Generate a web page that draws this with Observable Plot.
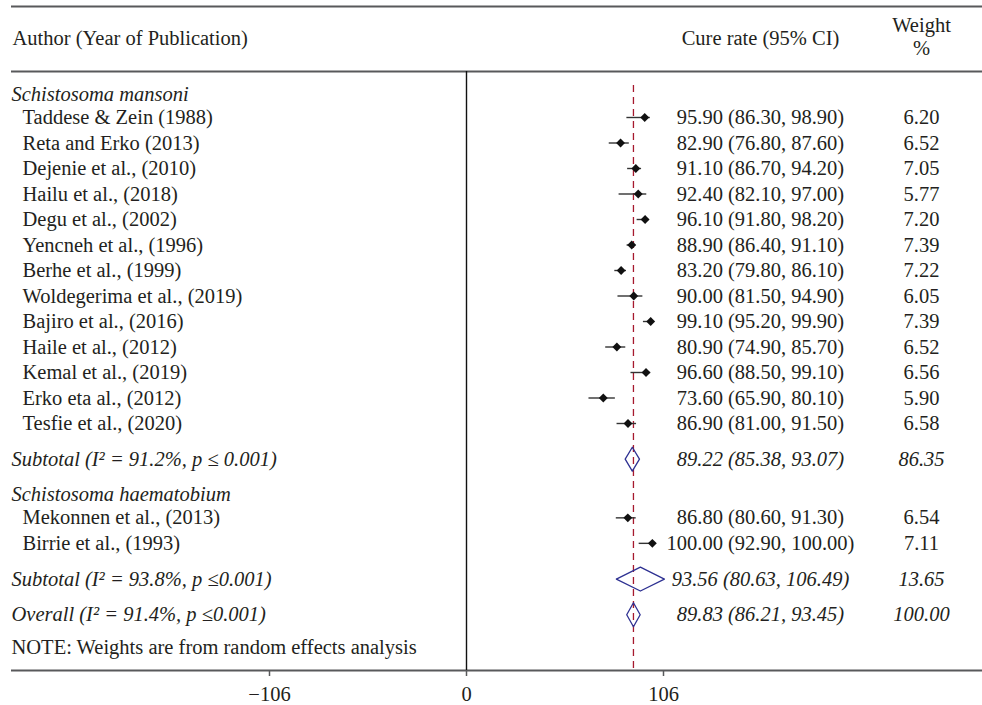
<!DOCTYPE html>
<html>
<head>
<meta charset="utf-8">
<script src="https://cdn.jsdelivr.net/npm/d3@7"></script>
<script src="https://cdn.jsdelivr.net/npm/@observablehq/plot@0.6"></script>
<style>
  html, body { margin: 0; padding: 0; background: #fff; }
  #chart svg { display: block; }
</style>
</head>
<body>
<div id="chart"></div>
<script>
// ---------------- DATA ----------------
const groupNames = ["Schistosoma mansoni", "Schistosoma haematobium"];

const studies1 = ["Taddese & Zein (1988)", "Reta and Erko (2013)", "Dejenie et al., (2010)",
  "Hailu et al., (2018)", "Degu et al., (2002)", "Yencneh et al., (1996)", "Berhe et al., (1999)",
  "Woldegerima et al., (2019)", "Bajiro et al., (2016)", "Haile et al., (2012)",
  "Kemal et al., (2019)", "Erko eta al., (2012)", "Tesfie et al., (2020)"];
const est1 = [95.90, 82.90, 91.10, 92.40, 96.10, 88.90, 83.20, 90.00, 99.10, 80.90, 96.60, 73.60, 86.90];
const lo1  = [86.30, 76.80, 86.70, 82.10, 91.80, 86.40, 79.80, 81.50, 95.20, 74.90, 88.50, 65.90, 81.00];
const hi1  = [98.90, 87.60, 94.20, 97.00, 98.20, 91.10, 86.10, 94.90, 99.90, 85.70, 99.10, 80.10, 91.50];
const wt1  = [6.20, 6.52, 7.05, 5.77, 7.20, 7.39, 7.22, 6.05, 7.39, 6.52, 6.56, 5.90, 6.58];

const studies2 = ["Mekonnen et al., (2013)", "Birrie et al., (1993)"];
const est2 = [86.80, 100.00];
const lo2  = [80.60, 92.90];
const hi2  = [91.30, 100.00];
const wt2  = [6.54, 7.11];

const subtotalLabels = ["Subtotal (I\u00B2 = 91.2%, p \u2264 0.001)", "Subtotal (I\u00B2 = 93.8%, p \u22640.001)"];
const subtotalEst = [89.22, 93.56];
const subtotalLo  = [85.38, 80.63];
const subtotalHi  = [93.07, 106.49];
const subtotalWt  = [86.35, 13.65];

const overallLabel = "Overall (I\u00B2 = 91.4%, p \u22640.001)";
const overallEst = 89.83, overallLo = 86.21, overallHi = 93.45, overallWt = 100.00;

const noteText = "NOTE: Weights are from random effects analysis";
const headerAuthor = "Author (Year of Publication)";
const headerCI = "Cure rate (95% CI)";
const headerWeight = ["Weight", "%"];
const xTicks = [-106, 0, 106];

// ---------------- LAYOUT (row positions) ----------------
const groups = [
  {name: groupNames[0], names: studies1, est: est1, lo: lo1, hi: hi1, wt: wt1},
  {name: groupNames[1], names: studies2, est: est2, lo: lo2, hi: hi2, wt: wt2}
];
const rows = [];
let pos = 0.1;
groups.forEach((g, gi) => {
  rows.push({kind: "group", label: g.name, pos});
  pos += 0.9;
  g.names.forEach((n, i) => {
    rows.push({kind: "study", label: n, est: g.est[i], lo: g.lo[i], hi: g.hi[i], wt: g.wt[i], pos});
    if (i < g.names.length - 1) pos += 1;
  });
  pos += 1.4;
  rows.push({kind: "subtotal", label: subtotalLabels[gi], est: subtotalEst[gi], lo: subtotalLo[gi], hi: subtotalHi[gi], wt: subtotalWt[gi], pos});
  pos += 1.4;
});
rows.push({kind: "overall", label: overallLabel, est: overallEst, lo: overallLo, hi: overallHi, wt: overallWt, pos});
pos += 1.3;
rows.push({kind: "note", label: noteText, pos});

const ROW0 = 117, ROWH = 25.5;             // pixel layout of the row grid
const P = px => 1 + (px - ROW0) / ROWH;    // pixel -> row units

const f2 = v => v.toFixed(2);
const studies = rows.filter(r => r.kind === "study");
const pooled = rows.filter(r => r.kind === "subtotal" || r.kind === "overall");
const italicLabels = rows.filter(r => r.kind !== "study" && r.kind !== "note");
const noteRows = rows.filter(r => r.kind === "note");
const H = 0.47; // diamond half-height in row units
const diamondPts = pooled.flatMap((r, k) => [
  {k, x: r.lo, y: r.pos}, {k, x: r.est, y: r.pos - H}, {k, x: r.hi, y: r.pos},
  {k, x: r.est, y: r.pos + H}, {k, x: r.lo, y: r.pos}
]);

const TXT = "#231f20";
const FS = 20.5;
const font = "Liberation Serif, Times New Roman, serif";
const CI_DX = -222, WT_DX = -61;

const chart = Plot.plot({
  width: 982,
  height: 705,
  marginLeft: 11,
  marginRight: 0,
  marginTop: 71,
  marginBottom: 35,
  style: {fontFamily: font, fontSize: FS + "px", color: TXT, background: "#fff"},
  x: {domain: [-106, 106], range: [269, 663]},
  y: {domain: [1, 13], range: [ROW0, ROW0 + 12 * ROWH], axis: null},
  marks: [
    // horizontal rules
    Plot.ruleY([P(6), P(71), P(670)], {stroke: "#58595b", strokeWidth: 2}),
    // zero line
    Plot.ruleX([0], {y1: P(71), y2: P(670), stroke: "#111", strokeWidth: 1.4}),
    // overall dashed line
    Plot.ruleX([overallEst], {y1: P(85), y2: P(670), stroke: "#a6192e", strokeWidth: 1.3, strokeDasharray: "7,5"}),
    // axis
    Plot.axisX({ticks: xTicks, tickSize: 6, tickPadding: 10, fontSize: FS, stroke: "#58595b", strokeWidth: 1.5, fill: TXT,
      tickFormat: d => d < 0 ? "\u2212" + Math.abs(d) : String(d)}),
    // CI lines and points
    Plot.ruleY(studies, {y: "pos", x1: "lo", x2: "hi", stroke: "#333", strokeWidth: 1.4}),
    Plot.dot(studies, {x: "est", y: "pos", symbol: "diamond2", r: 4, fill: "#111", stroke: "none"}),
    // pooled diamonds
    Plot.line(diamondPts, {x: "x", y: "y", z: "k", stroke: "#2e3192", strokeWidth: 1.3, fill: "none", curve: "linear"}),
    // header texts
    Plot.text([headerAuthor], {frameAnchor: "left", dx: 1, y: [P(38)], text: d => d, textAnchor: "start", fontSize: FS, fill: TXT}),
    Plot.text([headerCI], {frameAnchor: "right", dx: CI_DX, y: [P(38)], text: d => d, textAnchor: "middle", fontSize: FS, fill: TXT}),
    Plot.text(headerWeight, {frameAnchor: "right", dx: WT_DX, y: [P(25), P(48)], text: d => d, textAnchor: "middle", fontSize: FS, fill: TXT}),
    // row labels
    Plot.text(studies, {frameAnchor: "left", dx: 11, y: "pos", text: "label", textAnchor: "start", fontSize: FS, fill: TXT}),
    Plot.text(italicLabels, {frameAnchor: "left", dx: 0, y: "pos", text: "label", textAnchor: "start", fontSize: FS, fill: TXT, fontStyle: "italic"}),
    Plot.text(noteRows, {frameAnchor: "left", dx: 0, y: "pos", text: "label", textAnchor: "start", fontSize: FS, fill: TXT}),
    // estimates
    Plot.text(studies, {frameAnchor: "right", dx: CI_DX, y: "pos", textAnchor: "middle", fontSize: FS, fill: TXT,
      text: d => `${f2(d.est)} (${f2(d.lo)}, ${f2(d.hi)})`}),
    Plot.text(pooled, {frameAnchor: "right", dx: CI_DX, y: "pos", textAnchor: "middle", fontSize: FS, fill: TXT, fontStyle: "italic",
      text: d => `${f2(d.est)} (${f2(d.lo)}, ${f2(d.hi)})`}),
    // weights
    Plot.text(studies, {frameAnchor: "right", dx: WT_DX, y: "pos", textAnchor: "middle", fontSize: FS, fill: TXT,
      text: d => f2(d.wt)}),
    Plot.text(pooled, {frameAnchor: "right", dx: WT_DX, y: "pos", textAnchor: "middle", fontSize: FS, fill: TXT, fontStyle: "italic",
      text: d => f2(d.wt)})
  ]
});

document.getElementById("chart").appendChild(chart);
</script>
</body>
</html>
